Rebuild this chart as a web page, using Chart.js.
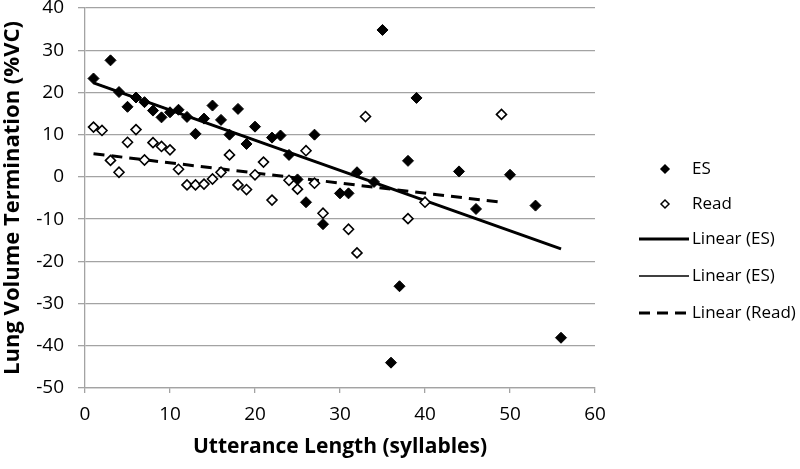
<!DOCTYPE html>
<html>
<head>
<meta charset="utf-8">
<script src="https://cdn.jsdelivr.net/npm/chart.js@4.4.1/dist/chart.umd.min.js"></script>
<style>
  html, body { margin: 0; padding: 0; background: #fff; }
  #wrap { width: 800px; height: 469px; }
</style>
</head>
<body>
<div id="wrap"><canvas id="lvtChart"></canvas></div>
<script>
// Utterance length (syllables) vs lung volume termination (%VC)
const esX = [1, 3, 4, 5, 6, 7, 8, 9, 10, 11, 12, 13, 14, 15, 16, 17, 18, 19, 20, 22, 23, 24, 25, 26, 27, 28, 30, 31, 32, 34, 35, 36, 37, 38, 39, 44, 46, 50, 53, 56];
const esY = [23.3, 27.6, 20.1, 16.6, 18.8, 17.7, 15.7, 14.1, 15.3, 15.9, 14.2, 10.2, 13.8, 16.9, 13.5, 10.0, 16.1, 7.8, 11.9, 9.3, 9.8, 5.2, -0.6, -6.0, 10.0, -11.2, -3.9, -3.9, 1.1, -1.2, 34.8, -44.0, -25.9, 3.8, 18.7, 1.3, -7.6, 0.5, -6.8, -38.1];
const readX = [1, 2, 3, 4, 5, 6, 7, 8, 9, 10, 11, 12, 13, 14, 15, 16, 17, 18, 19, 20, 21, 22, 24, 25, 26, 27, 28, 31, 32, 33, 38, 40, 49];
const readY = [11.8, 11.0, 3.9, 1.1, 8.2, 11.2, 4.0, 8.1, 7.2, 6.4, 1.8, -1.9, -1.9, -1.7, -0.5, 1.1, 5.2, -1.9, -3.0, 0.5, 3.5, -5.5, -0.8, -2.9, 6.2, -1.5, -8.6, -12.4, -18.0, 14.3, -9.9, -6.0, 14.8];

const xTicks = [0, 10, 20, 30, 40, 50, 60];
const yTicks = [-50, -40, -30, -20, -10, 0, 10, 20, 30, 40];

const FONT = '"Open Sans", sans-serif';
const GRID = '#a3a3a3';

function toPoints(xs, ys) {
    return xs.map((x, i) => ({ x: x, y: ys[i] }));
}

// least squares line over the range of the data, like the Excel trendline
function linearFit(xs, ys) {
    const n = xs.length;
    const mx = xs.reduce((a, b) => a + b, 0) / n;
    const my = ys.reduce((a, b) => a + b, 0) / n;
    let sxy = 0, sxx = 0;
    xs.forEach((x, i) => {
        sxy += (x - mx) * (ys[i] - my);
        sxx += (x - mx) * (x - mx);
    });
    const slope = sxy / sxx;
    const x0 = Math.min(...xs), x1 = Math.max(...xs);
    return [{ x: x0, y: my + slope * (x0 - mx) }, { x: x1, y: my + slope * (x1 - mx) }];
}

function diamond(ctx, x, y, r) {
    ctx.beginPath();
    ctx.moveTo(x - r, y);
    ctx.lineTo(x, y - r);
    ctx.lineTo(x + r, y);
    ctx.lineTo(x, y + r);
    ctx.closePath();
}

// legend drawn by hand at the right, Excel style
const sideLegend = {
    id: 'sideLegend',
    afterDraw(chart) {
        const ctx = chart.ctx;
        const rows = [
            { text: 'ES', y: 169, kind: 'filled' },
            { text: 'Read', y: 204, kind: 'open' },
            { text: 'Linear (ES)', y: 239, kind: 'line', width: 3, dash: [] },
            { text: 'Linear (ES)', y: 276, kind: 'line', width: 1.5, dash: [] },
            { text: 'Linear (Read)', y: 313, kind: 'line', width: 3, dash: [11, 7] }
        ];
        ctx.save();
        ctx.font = '17px ' + FONT;
        ctx.textBaseline = 'middle';
        rows.forEach(row => {
            ctx.strokeStyle = '#000';
            ctx.fillStyle = '#000';
            if (row.kind === 'line') {
                ctx.lineWidth = row.width;
                ctx.setLineDash(row.dash);
                ctx.beginPath();
                ctx.moveTo(639, row.y);
                ctx.lineTo(689, row.y);
                ctx.stroke();
                ctx.setLineDash([]);
            } else {
                diamond(ctx, 665, row.y, 4);
                ctx.lineWidth = 1.5;
                ctx.fillStyle = row.kind === 'filled' ? '#000' : '#fff';
                ctx.fill();
                ctx.stroke();
            }
            ctx.fillStyle = '#000';
            ctx.fillText(row.text, 692, row.y);
        });
        ctx.restore();
    }
};

const esTrend = linearFit(esX, esY);
const readTrend = linearFit(readX, readY);

new Chart(document.getElementById('lvtChart'), {
    type: 'scatter',
    data: {
        datasets: [{
            label: 'ES',
            data: toPoints(esX, esY),
            pointStyle: 'rectRot',
            pointRadius: 5.5,
            backgroundColor: '#000',
            borderColor: '#000',
            borderWidth: 1
        }, {
            label: 'Read',
            data: toPoints(readX, readY),
            pointStyle: 'rectRot',
            pointRadius: 5,
            backgroundColor: '#fff',
            borderColor: '#000',
            borderWidth: 1.6
        }, {
            label: 'Linear (ES)',
            type: 'line',
            data: esTrend,
            borderColor: '#000',
            borderWidth: 1.5,
            pointRadius: 0,
            fill: false
        }, {
            label: 'Linear (ES)',
            type: 'line',
            data: esTrend,
            borderColor: '#000',
            borderWidth: 3,
            pointRadius: 0,
            fill: false
        }, {
            label: 'Linear (Read)',
            type: 'line',
            data: readTrend,
            borderColor: '#000',
            borderWidth: 3,
            borderDash: [11, 7],
            pointRadius: 0,
            fill: false
        }]
    },
    options: {
        responsive: true,
        maintainAspectRatio: false,
        animation: false,
        layout: { padding: { top: 8, right: 205, left: 0, bottom: 0 } },
        plugins: {
            legend: { display: false },
            tooltip: { enabled: false }
        },
        scales: {
            x: {
                type: 'linear',
                min: xTicks[0],
                max: xTicks[xTicks.length - 1],
                ticks: {
                    stepSize: xTicks[1] - xTicks[0],
                    color: '#000',
                    font: { family: FONT, size: 19 },
                    padding: 10
                },
                grid: { drawOnChartArea: false, color: GRID, tickLength: 5, lineWidth: 1.3 },
                border: { color: GRID, width: 1.3 },
                title: {
                    display: true,
                    text: 'Utterance Length (syllables)',
                    color: '#000',
                    font: { family: FONT, size: 21, weight: 'bold' },
                    padding: { top: 0, bottom: 9 }
                },
                afterFit(scale) {
                    scale.height = 81;
                    scale.paddingLeft = 0;
                    scale.paddingRight = 0;
                }
            },
            y: {
                min: yTicks[0],
                max: yTicks[yTicks.length - 1],
                ticks: {
                    stepSize: yTicks[1] - yTicks[0],
                    color: '#000',
                    font: { family: FONT, size: 19 },
                    padding: 14
                },
                grid: { color: GRID, tickLength: 7, lineWidth: 1.3 },
                border: { color: GRID, width: 1.3 },
                title: {
                    display: true,
                    text: 'Lung Volume Termination (%VC)',
                    color: '#000',
                    font: { family: FONT, size: 22, weight: 'bold' },
                    padding: { top: 0, bottom: 0 }
                },
                afterFit(scale) {
                    scale.width = 85;
                    scale.paddingTop = 0;
                    scale.paddingBottom = 0;
                }
            }
        }
    },
    plugins: [sideLegend]
});
</script>
</body>
</html>
